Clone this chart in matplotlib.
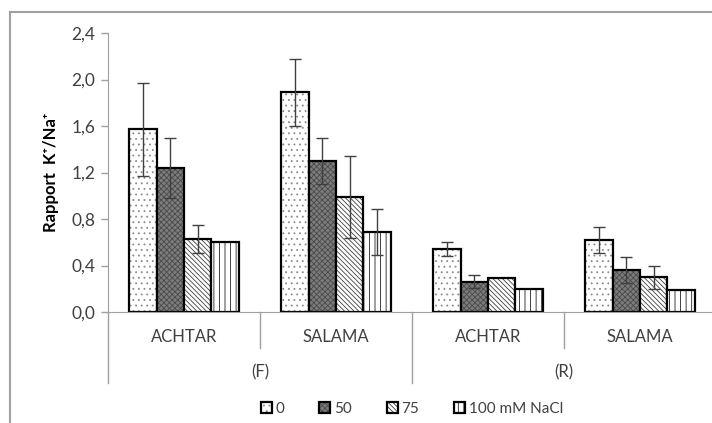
import matplotlib.pyplot as plt
import numpy as np
from matplotlib.lines import Line2D
from matplotlib.colors import to_rgba

plt.rcParams['font.family'] = ['Lato', 'DejaVu Sans']
plt.rcParams['hatch.linewidth'] = 0.6

categories = ['ACHTAR', 'SALAMA', 'ACHTAR', 'SALAMA']
groups = ['(F)', '(R)']
series = ['0', '50', '75', '100 mM NaCl']

v0 = [1.57, 1.89, 0.54, 0.62]
v50 = [1.24, 1.30, 0.26, 0.36]
v75 = [0.63, 0.99, 0.29, 0.30]
v100 = [0.60, 0.69, 0.20, 0.19]

e0 = [0.40, 0.29, 0.06, 0.115]
e50 = [0.26, 0.20, 0.055, 0.11]
e75 = [0.12, 0.35, 0.0, 0.10]
e100 = [0.0, 0.20, 0.0, 0.0]

yticks = [0, 0.4, 0.8, 1.2, 1.6, 2.0, 2.4]

fig = plt.figure(figsize=(7.12, 4.23), dpi=100)
ax = fig.add_axes([108/712, 1-312/423, 608/712, 279/423])

x = np.arange(len(categories)) + 0.5
w = 0.18
vals = [v0, v50, v75, v100]
errs = [e0, e50, e75, e100]
faces = ['white', '#7c7c7c', 'white', 'white']
hatches = ['...', 'xxxxxx', '\\\\\\\\\\\\\\', '|||']
hcolors = ['#8a8a8a', '#4a4a4a', '#404040', '#202020']

for i in range(4):
    pos = x + (i - 1.5) * w
    bars = ax.bar(pos, vals[i], w, facecolor=faces[i], edgecolor='black',
                  linewidth=1.6, hatch=hatches[i], label=series[i], zorder=2)
    for b in bars:
        b._hatch_color = to_rgba(hcolors[i])
    err = np.array(errs[i])
    m = err > 0
    ax.errorbar(pos[m], np.array(vals[i])[m], yerr=err[m], fmt='none',
                ecolor='#404040', elinewidth=1, capsize=4, capthick=1, zorder=3)

ax.set_xlim(0, 4)
ax.set_ylim(0, 2.4)
ax.set_yticks(yticks)
ax.set_yticklabels([f'{t:.1f}'.replace('.', ',') for t in yticks])
ax.tick_params(axis='y', colors='#a0a0a0', labelcolor='#404040', labelsize=12.5,
               length=5, width=1, pad=4)
ax.set_xticks([])
for s in ['top', 'right']:
    ax.spines[s].set_visible(False)
ax.spines['left'].set_color('#a0a0a0')
ax.spines['bottom'].set_color('#a0a0a0')

ax.set_ylabel('Rapport  K\u207a/Na\u207a', fontsize=12, fontweight='bold',
              labelpad=9)

tr = ax.get_xaxis_transform()
for xs in [1, 3]:
    ax.add_line(Line2D([xs, xs], [0, -0.129], transform=tr, color='#a0a0a0',
                       lw=1, clip_on=False))
for xs in [0, 2, 4]:
    ax.add_line(Line2D([xs, xs], [0, -0.254], transform=tr, color='#a0a0a0',
                       lw=1, clip_on=False))
for xi, c in zip(x, categories):
    ax.text(xi, -0.09, c, transform=tr, ha='center', va='center',
            fontsize=12, color='#404040')
for gi, g in enumerate(groups):
    ax.text(1 + 2 * gi, -0.215, g, transform=tr, ha='center', va='center',
            fontsize=12, color='#404040')

fig.legend(loc='center', bbox_to_anchor=(412/712, 1-409/423), ncol=4,
           frameon=False, handlelength=0.7, handleheight=0.7,
           handletextpad=0.25, columnspacing=2.3, fontsize=11,
           labelcolor='#404040')

fx = 10/712
fy = 1 - 12/423
fig.add_artist(Line2D([fx, fx], [0, fy], transform=fig.transFigure,
                      color='#a0a0a0', lw=1.5))
fig.add_artist(Line2D([fx, 1], [fy, fy], transform=fig.transFigure,
                      color='#a0a0a0', lw=1.5))

fig.savefig('out.png', dpi=100)
